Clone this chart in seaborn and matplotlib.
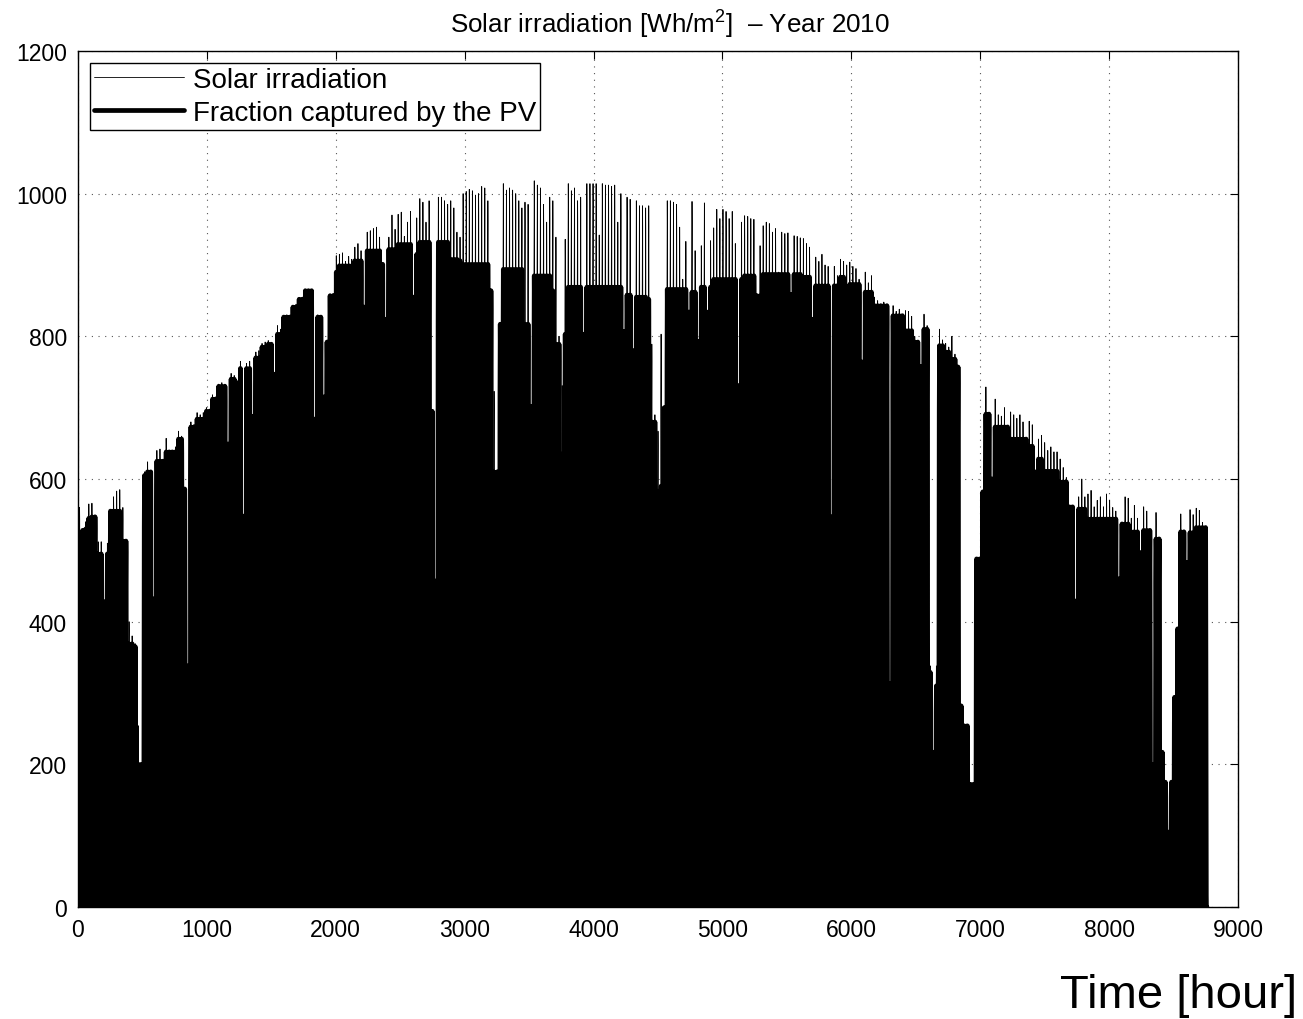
import numpy as np
import pandas as pd
import matplotlib
matplotlib.use("Agg")
import matplotlib.pyplot as plt
import seaborn as sns

# Daily peak values (one value per day, 365 days)
irradiation_peak = [
    560, 530, 540, 565, 566, 548, 512, 512, 428, 510,
    555, 575, 583, 585, 560, 513, 400, 380, 369, 254,
    200, 610, 624, 612, 432, 640, 642, 625, 657, 640,
    640, 645, 667, 660, 586, 338, 680, 676, 693, 690,
    693, 700, 698, 718, 715, 733, 735, 733, 649, 748,
    745, 735, 765, 548, 762, 765, 688, 778, 780, 790,
    792, 794, 790, 747, 815, 810, 827, 830, 827, 841,
    845, 852, 855, 864, 866, 864, 684, 830, 827, 715,
    792, 857, 860, 913, 915, 917, 905, 912, 908, 925,
    930, 920, 841, 946, 948, 951, 953, 939, 901, 824,
    939, 970, 950, 971, 974, 940, 960, 975, 855, 966,
    993, 988, 960, 990, 695, 457, 995, 995, 990, 985,
    990, 980, 946, 939, 1000, 1003, 1006, 1004, 998, 1000,
    1010, 1008, 990, 864, 723, 610, 817, 1014, 1005, 1008,
    1005, 1000, 990, 980, 988, 985, 702, 1018, 1012, 1008,
    985, 960, 995, 990, 939, 800, 731, 936, 1014, 1004,
    1008, 990, 995, 803, 1014, 1014, 1014, 1014, 942, 1014,
    1012, 1012, 1010, 1012, 960, 1000, 807, 995, 992, 780,
    990, 983, 983, 980, 983, 789, 690, 667, 803, 700,
    990, 990, 988, 985, 953, 880, 933, 834, 989, 920,
    793, 927, 987, 834, 934, 952, 978, 965, 978, 975,
    965, 975, 930, 731, 960, 969, 968, 965, 964, 857,
    927, 955, 960, 958, 946, 951, 890, 946, 944, 945,
    859, 941, 940, 938, 937, 930, 925, 824, 911, 905,
    915, 900, 898, 547, 898, 885, 908, 905, 900, 904,
    898, 895, 880, 764, 890, 875, 885, 855, 850, 845,
    848, 843, 313, 843, 835, 838, 829, 836, 835, 828,
    800, 792, 758, 831, 815, 338, 217, 338, 810, 795,
    790, 785, 800, 775, 757, 282, 254, 254, 172, 172,
    488, 488, 582, 729, 691, 600, 712, 690, 688, 700,
    673, 694, 690, 685, 690, 680, 656, 681, 676, 610,
    656, 661, 651, 640, 645, 638, 638, 628, 616, 602,
    561, 561, 429, 575, 600, 575, 579, 584, 561, 570,
    575, 561, 579, 570, 560, 555, 460, 537, 575, 573,
    545, 563, 545, 497, 561, 555, 528, 200, 553, 516,
    217, 175, 105, 175, 294, 390, 551, 526, 483, 557,
    550, 559, 556, 539, 532,
]

pv_peak = [
    525, 528, 530, 545, 547, 547, 495, 495, 428, 495,
    555, 555, 555, 555, 513, 513, 369, 369, 365, 200,
    200, 605, 610, 610, 432, 625, 625, 625, 638, 638,
    638, 638, 656, 656, 586, 338, 673, 673, 684, 684,
    684, 695, 695, 712, 712, 730, 730, 730, 649, 740,
    740, 735, 755, 548, 755, 755, 688, 770, 770, 785,
    785, 789, 789, 747, 803, 803, 827, 827, 827, 841,
    841, 852, 852, 864, 864, 864, 684, 827, 827, 715,
    792, 857, 857, 890, 899, 899, 899, 899, 899, 906,
    906, 906, 841, 920, 920, 920, 920, 920, 901, 824,
    922, 922, 922, 929, 929, 929, 929, 929, 855, 915,
    932, 932, 932, 932, 695, 457, 932, 932, 932, 932,
    908, 908, 908, 906, 901, 901, 901, 901, 901, 901,
    901, 901, 901, 864, 610, 610, 817, 894, 894, 894,
    894, 894, 894, 894, 817, 817, 702, 885, 885, 885,
    885, 885, 885, 864, 789, 789, 635, 803, 869, 869,
    869, 869, 869, 803, 869, 869, 869, 869, 869, 869,
    869, 869, 869, 869, 869, 869, 807, 858, 858, 780,
    855, 855, 855, 855, 852, 680, 680, 583, 590, 700,
    866, 866, 866, 866, 866, 866, 866, 834, 862, 862,
    793, 869, 869, 834, 869, 880, 880, 880, 880, 880,
    880, 880, 880, 731, 880, 885, 885, 885, 885, 857,
    857, 887, 887, 887, 887, 887, 887, 887, 887, 887,
    859, 887, 887, 887, 883, 883, 883, 824, 871, 871,
    871, 871, 871, 547, 871, 871, 883, 883, 869, 873,
    873, 873, 873, 764, 862, 862, 862, 843, 843, 843,
    843, 843, 313, 829, 829, 829, 829, 808, 808, 808,
    792, 792, 758, 810, 810, 329, 217, 310, 787, 787,
    778, 778, 768, 768, 757, 282, 254, 254, 172, 172,
    488, 488, 582, 691, 691, 600, 673, 673, 673, 673,
    673, 656, 656, 656, 656, 656, 656, 646, 646, 610,
    628, 628, 611, 611, 611, 611, 611, 596, 596, 596,
    561, 561, 429, 558, 558, 558, 544, 544, 544, 544,
    544, 544, 544, 544, 544, 544, 460, 537, 537, 537,
    526, 526, 526, 497, 528, 528, 528, 200, 516, 516,
    217, 175, 105, 175, 294, 390, 526, 526, 483, 525,
    525, 532, 532, 532, 532,
]

# Relative shape of a day (hour 0..23)
hourly_profile = [0, 0, 0, 0, 0, 0, 0.05, 0.2, 0.45, 0.7, 0.88, 0.98,
                  1.0, 0.97, 0.85, 0.65, 0.4, 0.15, 0.03, 0, 0, 0, 0, 0]

x_ticks = [0, 1000, 2000, 3000, 4000, 5000, 6000, 7000, 8000, 9000]
y_ticks = [0, 200, 400, 600, 800, 1000, 1200]

n_days = len(irradiation_peak)
hours = np.arange(n_days * 24)
prof = np.tile(np.array(hourly_profile), n_days)
df = pd.DataFrame({
    "hour": hours,
    "irr": np.repeat(np.array(irradiation_peak, float), 24) * prof,
    "pv": np.repeat(np.array(pv_peak, float), 24) * prof,
})

sns.set_style("white")
plt.rcParams["font.family"] = ["Liberation Sans", "DejaVu Sans"]
plt.rcParams["mathtext.fontset"] = "custom"
plt.rcParams["mathtext.rm"] = "Liberation Sans"
plt.rcParams["text.color"] = "black"
plt.rcParams["axes.labelcolor"] = "black"
plt.rcParams["xtick.color"] = "black"
plt.rcParams["ytick.color"] = "black"

fig = plt.figure(figsize=(13.03, 10.20), dpi=100)
ax = fig.add_axes([78 / 1303, 112 / 1020, 1160 / 1303, 856 / 1020])

sns.lineplot(data=df, x="hour", y="irr", color="black", lw=0.6,
             label="Solar irradiation", ax=ax, estimator=None, sort=False)
sns.lineplot(data=df, x="hour", y="pv", color="black", lw=3.4,
             label="Fraction captured by the PV", ax=ax, estimator=None, sort=False)

ax.set_xlim(0, 9000)
ax.set_ylim(0, 1200)
ax.set_xticks(x_ticks)
ax.set_yticks(y_ticks)
ax.set_xlabel("")
ax.set_ylabel("")
ax.tick_params(direction="in", length=6, width=0.8, top=True, right=True,
               labelsize=16.5, pad=8, colors="black")
ax.grid(True, color="#555555", linestyle=(0, (1, 5)), linewidth=0.8)
ax.set_axisbelow(True)
for s in ax.spines.values():
    s.set_color("black")
    s.set_linewidth(1.0)

leg = ax.legend(loc="upper left", bbox_to_anchor=(12 / 1160, 1 - 12 / 856),
                borderaxespad=0, fontsize=20, handlelength=3.25,
                labelspacing=0.25, borderpad=0.15, handletextpad=0.3,
                fancybox=False, framealpha=1, edgecolor="black")
leg.get_frame().set_linewidth(1.0)
for t in leg.get_texts():
    t.set_color("black")

fig.text(0.514, 1 - 33 / 1020, "Solar irradiation [Wh/m$^{\\mathregular{2}}$]  \u2013 Year 2010",
         ha="center", va="baseline", fontsize=18.7)
fig.text(1297 / 1303, 1 - 1008 / 1020, "Time [hour]", ha="right", va="baseline",
         fontsize=34)

fig.savefig("out.png", dpi=100)
